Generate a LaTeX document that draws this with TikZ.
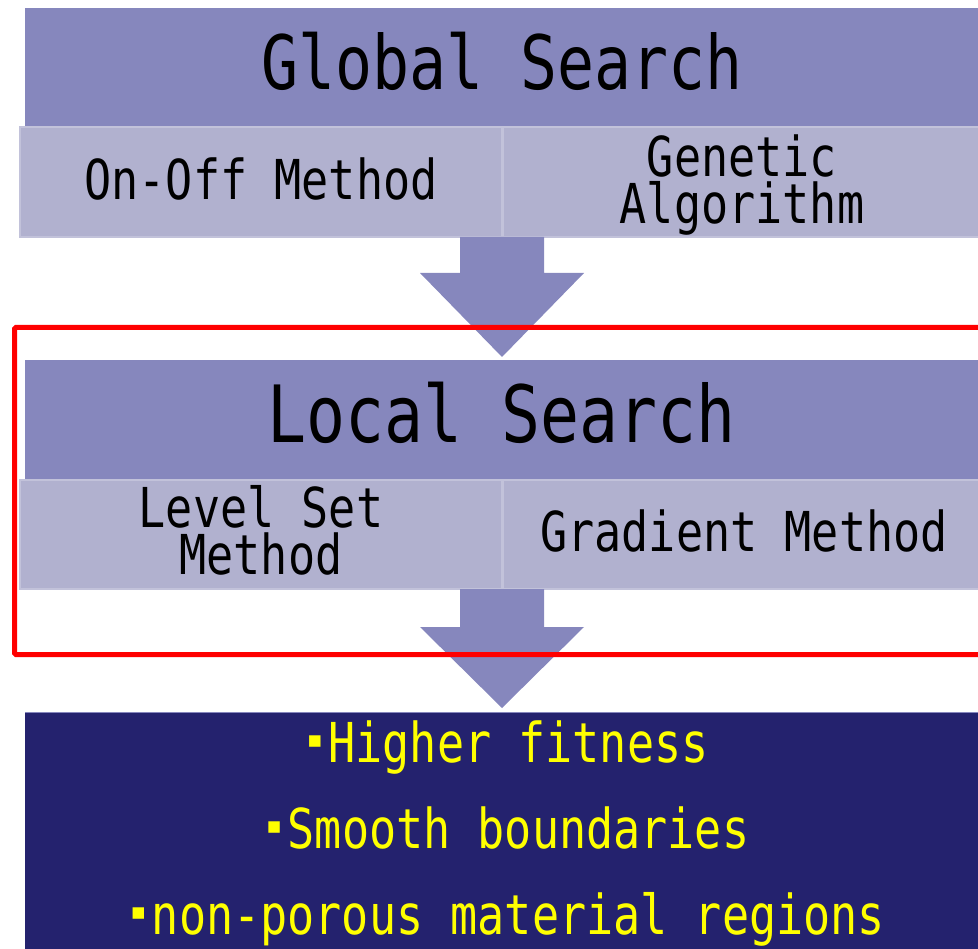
\documentclass[tikz,border=0pt]{standalone}
\usepackage{fontspec}
\newfontfamily\gothic{DejaVu Sans Mono}[FakeStretch=0.82]
\newfontfamily\symb{DejaVu Sans}
\usetikzlibrary{calc}
\definecolor{hdr}{HTML}{8687BD}
\definecolor{cell}{HTML}{B1B1CF}
\definecolor{cellline}{HTML}{C2C2DA}
\definecolor{navy}{HTML}{24226E}
\definecolor{hl}{HTML}{FFFF00}
% small square bullet occupying one character cell
\newcommand{\blt}{\makebox[27pt][c]{\raisebox{15pt}{\symb\fontsize{23}{23}\selectfont\char"25AA}}}

\begin{document}
\begin{tikzpicture}[x=1pt,y=-1pt,
  box/.style={inner sep=0pt, outer sep=0pt, anchor=north west},
  header/.style={box, fill=hdr},
  cellbox/.style={box, fill=cell, draw=cellline, line width=1.2pt},
  resultbox/.style={box, fill=navy},
  focusframe/.style={box, draw=red, line width=5pt, rounded corners=1.5pt},
  bigtxt/.style={font=\gothic\fontsize{75}{80}\selectfont, text=black, inner sep=0pt, anchor=base},
  localtxt/.style={font=\gothic\fontsize{79}{84}\selectfont, text=black, inner sep=0pt, anchor=base},
  subtxt/.style={font=\gothic\fontsize{55}{47}\selectfont, text=black, inner sep=0pt, align=center},
  outtxt/.style={font=\gothic\fontsize{55}{86}\selectfont, text=hl, inner sep=0pt, align=center},
  flow/.style={fill=hdr}
]
\useasboundingbox (0,0) rectangle (978,949);
\clip (0,0) rectangle (978,949);

% global search stage
\node[header, minimum width=954pt, minimum height=119pt] (gs) at (25,8) {};
\node[cellbox, minimum width=482pt, minimum height=110pt] (gl) at (20,127) {};
\node[cellbox, minimum width=482pt, minimum height=110pt] (gr) at (503,127) {};

% local search stage
\node[header, minimum width=954pt, minimum height=120pt] (ls) at (25,360) {};
\node[cellbox, minimum width=482pt, minimum height=109pt] (ll) at (20,480) {};
\node[cellbox, minimum width=482pt, minimum height=109pt] (lr) at (503,480) {};

% outcome box
\node[resultbox, minimum width=954pt, minimum height=250pt] (out) at (25,712) {};
\draw[hdr, line width=1pt] (out.north west) -- (out.north east);

% block arrows between the stages
\fill[flow] ($(gl.south east)+(-42,0)$) -- ++(0,36) -- ++(-40,0)
  -- ($(ls.north)+(0,-3)$) -- ($(gl.south east)+(82,36)$) -- ++(-40,0)
  -- ++(0,-36) -- cycle;
\fill[flow] ($(ll.south east)+(-42,0)$) -- ++(0,38) -- ++(-40,0)
  -- ($(out.north)+(0,-4)$) -- ($(ll.south east)+(82,38)$) -- ++(-40,0)
  -- ++(0,-38) -- cycle;

% labels
\node[bigtxt] (gst) at ($(gs.center)+(0,22.5)$) {Global Search};
\node[subtxt, anchor=base] (glt) at ($(gl.center)+(0,18)$) {On-Off Method};
\node[subtxt] (grt) at ($(gr.center)+(-2,2.6)$) {Genetic\\Algorithm};
\node[localtxt] (lst) at ($(ls.center)+(0,23)$) {Local Search};
\node[subtxt] (llt) at ($(ll.center)+(0,-3.9)$) {Level Set\\Method};
\node[subtxt, anchor=base] (lrt) at ($(lr.center)+(0,17)$) {Gradient Method};
\node[outtxt] (outt) at ($(out.north)+(3,122)$)
  {\blt Higher fitness\\\blt Smooth boundaries\\\blt non-porous material regions};

% frame around the local search stage
\node[focusframe, minimum width=990pt, minimum height=327pt] (focus) at (14.5,327.5) {};
\end{tikzpicture}
\end{document}
